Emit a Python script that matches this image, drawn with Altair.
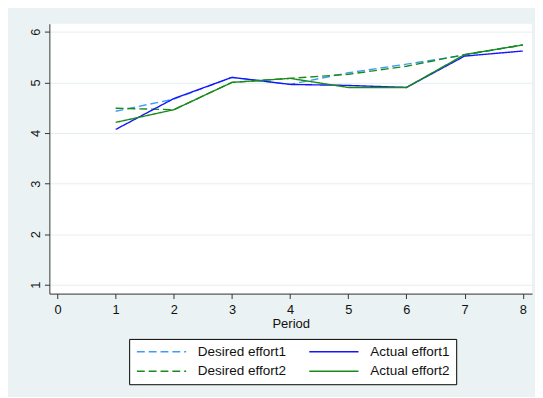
import altair as alt
import pandas as pd

periods = [1, 2, 3, 4, 5, 6, 7, 8]
desired1 = [4.43, 4.67, 5.10, 4.96, 5.19, 5.36, 5.54, 5.74]
desired2 = [4.49, 4.46, 5.00, 5.08, 5.16, 5.32, 5.55, 5.74]
actual1 = [4.07, 4.68, 5.10, 4.96, 4.94, 4.90, 5.52, 5.62]
actual2 = [4.21, 4.46, 5.00, 5.08, 4.90, 4.90, 5.55, 5.74]

series_names = ["Desired effort1", "Desired effort2", "Actual effort1", "Actual effort2"]
series_colors = ["#3D9BFF", "#1A8A1A", "#1414FF", "#1A8A1A"]
series_dash = [[8, 4], [8, 4], [1, 0], [1, 0]]
x_ticks = [0, 1, 2, 3, 4, 5, 6, 7, 8]
y_ticks = [1, 2, 3, 4, 5, 6]

rows = []
for name, vals, kind in [("Desired effort1", desired1, "d"), ("Desired effort2", desired2, "d"),
                         ("Actual effort1", actual1, "a"), ("Actual effort2", actual2, "a")]:
    for p, v in zip(periods, vals):
        rows.append({"period": p, "value": v, "series": name, "kind": kind})
df = pd.DataFrame(rows)

FONT = "Liberation Sans"

x = alt.X("period:Q", title="Period",
          scale=alt.Scale(domain=[-0.14, 8.16], nice=False, zero=False),
          axis=alt.Axis(values=x_ticks, grid=False, tickSize=5, labelPadding=5,
                        labelFontSize=13, titleFontSize=13.2, titleFontWeight="normal",
                        titlePadding=1, domainColor="#333333", tickColor="#333333",
                        labelColor="#111111", titleColor="#111111", labelFont=FONT, titleFont=FONT))
y = alt.Y("value:Q", title=None,
          scale=alt.Scale(domain=[0.825, 6.16], nice=False, zero=False),
          axis=alt.Axis(values=y_ticks, grid=True, gridColor="#E6EEF0", gridWidth=1,
                        tickSize=5, labelPadding=2, labelAngle=270, labelAlign="center",
                        labelBaseline="bottom", labelFontSize=13, labelFont=FONT,
                        domainColor="#333333", tickColor="#333333", labelColor="#111111"))
color = alt.Color("series:N", title=None,
                  scale=alt.Scale(domain=series_names, range=series_colors),
                  legend=alt.Legend(orient="none", legendX=81, legendY=320, columns=2,
                                    symbolType="M-5,0H5", symbolSize=100, symbolStrokeWidth=1.5,
                                    symbolOffset=20,
                                    labelFontSize=13.7, labelFont=FONT, labelColor="#111111",
                                    labelOffset=30, columnPadding=19, rowPadding=5,
                                    padding=6, strokeColor="#000000", fillColor="white",
                                    direction="vertical"))
dash = alt.StrokeDash("series:N", title=None,
                      scale=alt.Scale(domain=series_names, range=series_dash))

desired = alt.Chart(df).transform_filter(alt.datum.kind == "d").mark_line(strokeWidth=1.4).encode(
    x=x, y=y, color=color, strokeDash=dash, detail="series:N")
actual = alt.Chart(df).transform_filter(alt.datum.kind == "a").mark_line(strokeWidth=1.4).encode(
    x=x, y=y, color=color, strokeDash=dash, detail="series:N")

chart = alt.layer(desired, actual).properties(
    width=490, height=274,
    autosize=alt.AutoSizeParams(type="none"),
    padding={"left": 42, "top": 13, "right": 3, "bottom": 102},
    background="#EAF2F3",
).configure_view(fill="white", stroke=None)

chart.save("out.html", embed_options={"renderer": "svg", "actions": False})
